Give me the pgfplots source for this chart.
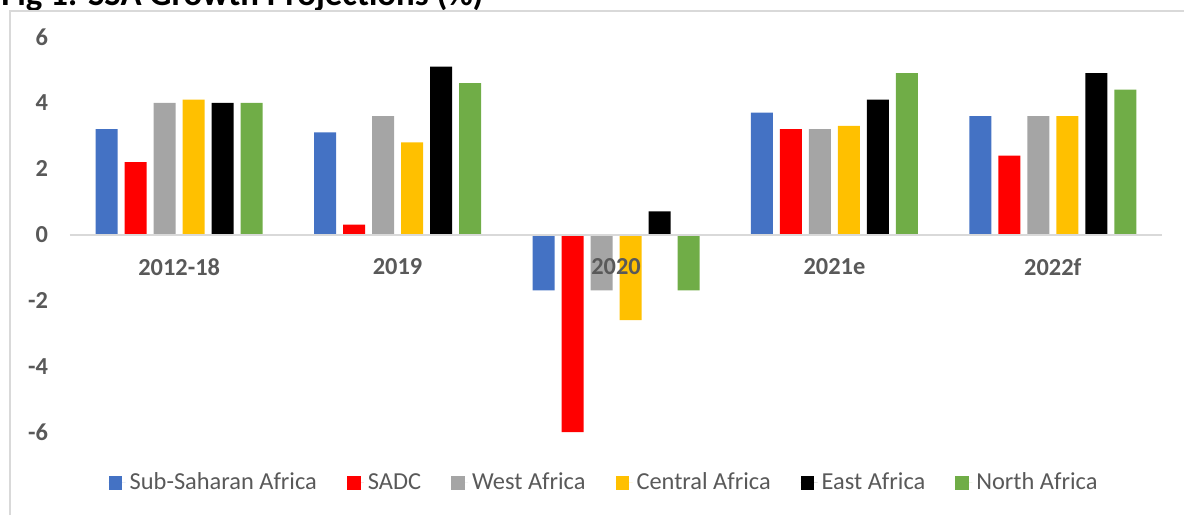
\documentclass[border=0pt]{standalone}
\usepackage{fontspec}
\setmainfont{Carlito}
\usepackage{pgfplots}
\pgfplotsset{compat=1.18}
\definecolor{ssaBlue}{HTML}{4472C4}
\definecolor{sadcRed}{HTML}{FF0000}
\definecolor{westGray}{HTML}{A5A5A5}
\definecolor{centralGold}{HTML}{FFC000}
\definecolor{eastBlack}{HTML}{000000}
\definecolor{northGreen}{HTML}{70AD47}
\definecolor{labelGray}{HTML}{595959}
\definecolor{lineGray}{HTML}{D9D9D9}
\pgfplotsset{sqlegend/.style={legend image code/.code={\fill[##1] (0pt,-3.4pt) rectangle (6.8pt,3.4pt); \path (0pt,0pt) -- (8.5pt,0pt);}}}

\begin{document}
\begin{tikzpicture}
\begin{axis}[
  at={(0,0)}, anchor=south west,
  scale only axis, width=546pt, height=197.5pt,
  xmin=-0.5, xmax=4.5, ymin=-6, ymax=6,
  ybar=3.5pt, bar width=11pt,
  axis on top,
  xtick={0,1,2,3,4}, xticklabels={2012-18,2019,2020,2021e,2022f},
  ytick={-6,-4,...,6},
  axis line style={draw=none},
  major tick length=0pt,
  /pgf/number format/assume math mode=true,
  tick label style={font=\fontsize{12.2}{14}\selectfont\bfseries, text=labelGray},
  xticklabel style={yshift=90.25pt},
  yticklabel style={xshift=-7.5pt},
  extra y ticks={0}, extra y tick labels={},
  extra y tick style={grid=major, major grid style={draw=lineGray, line width=1pt}},
  legend columns=6,
  legend style={at={(0.49,-0.129)}, anchor=center, draw=none, fill=none,
    font=\fontsize{12.2}{14}\selectfont, text=labelGray,
    /tikz/every even column/.append style={column sep=13pt}},
]
\addplot[fill=ssaBlue, draw=none, sqlegend] coordinates {(0,3.2) (1,3.1) (2,-1.7) (3,3.7) (4,3.6)};
\addplot[fill=sadcRed, draw=none, sqlegend] coordinates {(0,2.2) (1,0.3) (2,-6.0) (3,3.2) (4,2.4)};
\addplot[fill=westGray, draw=none, sqlegend] coordinates {(0,4.0) (1,3.6) (2,-1.7) (3,3.2) (4,3.6)};
\addplot[fill=centralGold, draw=none, sqlegend] coordinates {(0,4.1) (1,2.8) (2,-2.6) (3,3.3) (4,3.6)};
\addplot[fill=eastBlack, draw=none, sqlegend] coordinates {(0,4.0) (1,5.1) (2,0.7) (3,4.1) (4,4.9)};
\addplot[fill=northGreen, draw=none, sqlegend] coordinates {(0,4.0) (1,4.6) (2,-1.7) (3,4.9) (4,4.4)};
\legend{Sub-Saharan Africa,SADC,West Africa,Central Africa,East Africa,North Africa}
\end{axis}
\node[anchor=base west, font=\fontsize{17.4}{20}\selectfont\bfseries, inner sep=0pt] at (-34.5pt,213pt) {Fig 1: SSA Growth Projections (\%)};
\draw[lineGray, line width=0.8pt] (-30pt,-41.5pt) -- (-30pt,210.5pt) -- (557pt,210.5pt);
\pgfresetboundingbox
\useasboundingbox (-35pt,-41.5pt) rectangle (557pt,216pt);
\end{tikzpicture}
\end{document}
